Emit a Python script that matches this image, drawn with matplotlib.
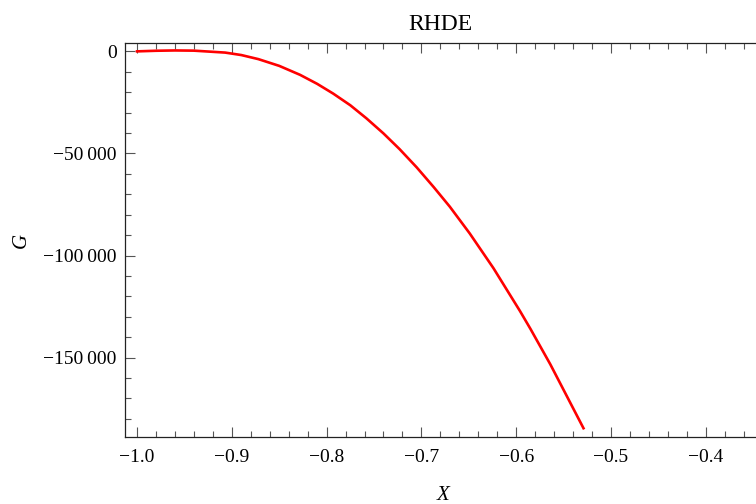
import matplotlib.pyplot as plt
from matplotlib.ticker import MultipleLocator, FuncFormatter

# values
x_vals = [-1.0, -0.98, -0.96, -0.94, -0.907, -0.89, -0.872, -0.85, -0.828,
          -0.81, -0.793, -0.775, -0.758, -0.74, -0.723, -0.705, -0.687,
          -0.67, -0.649, -0.624, -0.596, -0.585, -0.564, -0.529]
g_vals = [0, 300, 450, 350, -600, -1800, -3800, -7100, -11500,
          -15900, -20700, -26400, -32800, -40200, -47900, -56800, -66500,
          -76100, -89200, -106200, -127200, -135900, -153300, -184600]

x_ticks = [-1.0, -0.9, -0.8, -0.7, -0.6, -0.5, -0.4]
g_ticks = [0, -50000, -100000, -150000]

plt.rcParams['font.family'] = ['Liberation Serif', 'DejaVu Serif']


def fmt_x(v, pos):
    return f"{v:.1f}".replace('-', '\u2212')


def fmt_g(v, pos):
    n = int(round(v))
    s = f"{abs(n):,}".replace(',', '\u2009')
    return ('\u2212' if n < 0 else '') + s


fig = plt.figure(figsize=(7.56, 5.04), dpi=100)
ax = fig.add_axes([125 / 756, 1 - 437 / 504, 1 - 125 / 756, (437 - 43) / 504])
ax.plot(x_vals, g_vals, color='red', lw=1.9, solid_joinstyle='round')

ax.set_xlim(-1.0127, -0.347)
ax.set_ylim(-188900, 4100)
ax.set_xticks(x_ticks)
ax.set_yticks(g_ticks)
ax.xaxis.set_minor_locator(MultipleLocator(0.02))
ax.yaxis.set_minor_locator(MultipleLocator(10000))
ax.xaxis.set_major_formatter(FuncFormatter(fmt_x))
ax.yaxis.set_major_formatter(FuncFormatter(fmt_g))

ax.tick_params(which='both', direction='in', top=True, right=False,
               labelsize=14, color='#555555', width=0.8)
ax.tick_params(which='major', length=7)
ax.tick_params(which='minor', length=4)
ax.tick_params(axis='x', which='major', pad=9)
ax.tick_params(axis='y', which='major', pad=6)
ax.spines['right'].set_visible(False)
for s in ['left', 'top', 'bottom']:
    ax.spines[s].set_linewidth(0.9)
    ax.spines[s].set_color('#222222')

ax.set_title("RHDE", fontsize=17, pad=9)
ax.set_xlabel("X", fontsize=15, style='italic')
ax.set_ylabel("G", fontsize=15, style='italic')
ax.xaxis.set_label_coords(0.504, -0.124)
ax.yaxis.set_label_coords(-0.15, 0.5)

fig.savefig("out.png", dpi=100)
